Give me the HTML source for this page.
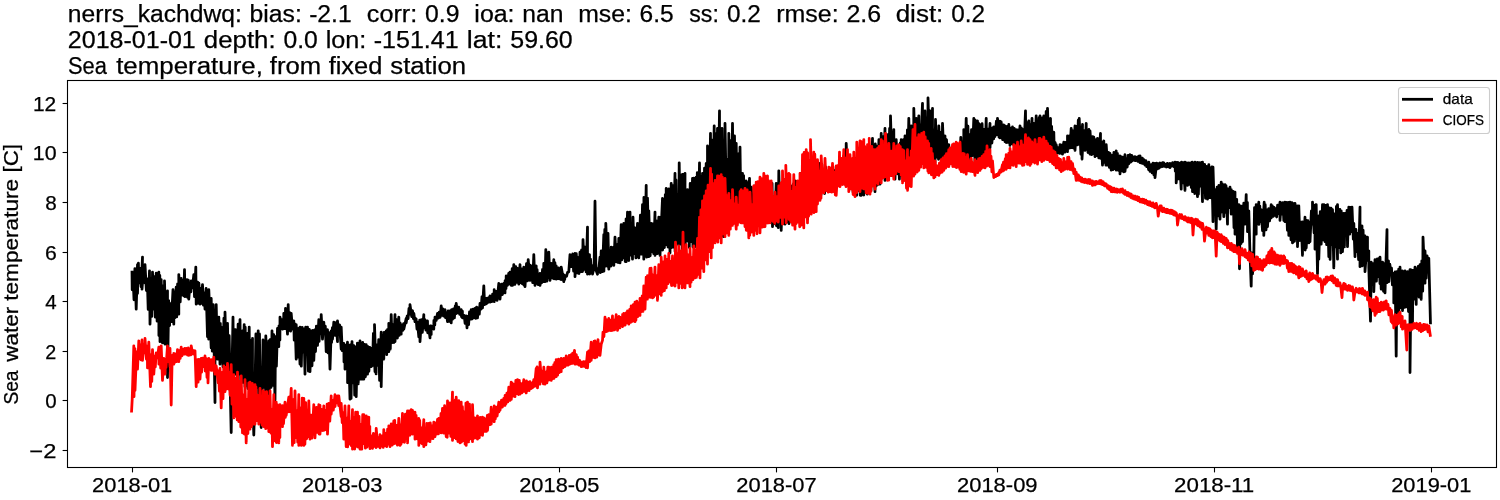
<!DOCTYPE html>
<html><head><meta charset="utf-8"><title>Sea temperature</title>
<style>
html,body{margin:0;padding:0;background:#fff;}
body{width:1500px;height:500px;overflow:hidden;font-family:"Liberation Sans",sans-serif;}
svg{display:block;font-family:"Liberation Sans",sans-serif;will-change:transform;}
text{fill:#000;stroke:#000;stroke-width:0.25px;}
.t{font-size:23px;}
.k{font-size:20px;}
.l{font-size:14.3px;stroke-width:0.15px;}
</style></head><body>
<svg width="1500" height="500" viewBox="0 0 1500 500">
<rect x="0" y="0" width="1500" height="500" fill="#fff"/>
<g class="t">
<text x="67.88" y="21.60" textLength="173.86" lengthAdjust="spacingAndGlyphs">nerrs_kachdwq:</text><text x="249.57" y="21.60" textLength="52.20" lengthAdjust="spacingAndGlyphs">bias:</text><text x="309.16" y="21.60" textLength="42.52" lengthAdjust="spacingAndGlyphs">-2.1</text><text x="366.80" y="21.60" textLength="50.34" lengthAdjust="spacingAndGlyphs">corr:</text><text x="424.99" y="21.60" textLength="34.45" lengthAdjust="spacingAndGlyphs">0.9</text><text x="474.39" y="21.60" textLength="40.12" lengthAdjust="spacingAndGlyphs">ioa:</text><text x="522.28" y="21.60" textLength="41.11" lengthAdjust="spacingAndGlyphs">nan</text><text x="578.18" y="21.60" textLength="53.67" lengthAdjust="spacingAndGlyphs">mse:</text><text x="639.55" y="21.60" textLength="34.12" lengthAdjust="spacingAndGlyphs">6.5</text><text x="689.27" y="21.60" textLength="29.60" lengthAdjust="spacingAndGlyphs">ss:</text><text x="726.93" y="21.60" textLength="33.82" lengthAdjust="spacingAndGlyphs">0.2</text><text x="776.23" y="21.60" textLength="62.45" lengthAdjust="spacingAndGlyphs">rmse:</text><text x="846.44" y="21.60" textLength="34.66" lengthAdjust="spacingAndGlyphs">2.6</text><text x="895.66" y="21.60" textLength="47.70" lengthAdjust="spacingAndGlyphs">dist:</text><text x="951.16" y="21.60" textLength="33.82" lengthAdjust="spacingAndGlyphs">0.2</text><text x="67.87" y="47.90" textLength="127.93" lengthAdjust="spacingAndGlyphs">2018-01-01</text><text x="203.84" y="47.90" textLength="71.78" lengthAdjust="spacingAndGlyphs">depth:</text><text x="283.42" y="47.90" textLength="34.33" lengthAdjust="spacingAndGlyphs">0.0</text><text x="325.72" y="47.90" textLength="40.65" lengthAdjust="spacingAndGlyphs">lon:</text><text x="373.70" y="47.90" textLength="84.96" lengthAdjust="spacingAndGlyphs">-151.41</text><text x="466.85" y="47.90" textLength="35.52" lengthAdjust="spacingAndGlyphs">lat:</text><text x="510.32" y="47.90" textLength="62.39" lengthAdjust="spacingAndGlyphs">59.60</text><text x="67.97" y="74.10" textLength="38.91" lengthAdjust="spacingAndGlyphs">Sea</text><text x="116.16" y="74.10" textLength="146.67" lengthAdjust="spacingAndGlyphs">temperature,</text><text x="269.89" y="74.10" textLength="51.36" lengthAdjust="spacingAndGlyphs">from</text><text x="328.67" y="74.10" textLength="53.70" lengthAdjust="spacingAndGlyphs">fixed</text><text x="390.31" y="74.10" textLength="75.76" lengthAdjust="spacingAndGlyphs">station</text>
</g>
<g fill="none" stroke-linejoin="round" stroke-linecap="butt" stroke-width="2.78">
<path stroke="#000" d="M132.0 270.8 L132.2 289.8 L133.1 277.4 L134.0 299.8 L134.9 268.6 L136.2 309.2 L137.5 264.6 L137.5 293.4 L138.4 263.2 L138.8 282.9 L140.2 268.3 L141.1 286.8 L142.5 257.1 L142.0 289.2 L143.8 266.1 L145.0 282.9 L145.0 264.6 L146.4 290.5 L147.3 279.0 L148.2 309.4 L149.5 270.8 L150.0 324.2 L151.2 278.3 L151.8 316.4 L152.5 272.1 L153.8 309.2 L154.4 276.6 L155.3 317.1 L156.2 273.2 L157.1 321.1 L158.8 272.1 L158.9 335.5 L159.8 275.5 L160.0 341.7 L161.2 279.6 L162.5 342.9 L163.3 285.7 L165.0 344.2 L164.5 280.8 L166.0 336.9 L167.5 290.8 L167.5 377.5 L168.7 300.7 L169.6 325.5 L170.0 303.3 L171.4 321.6 L173.0 289.6 L173.8 324.2 L174.0 291.7 L174.9 317.8 L176.2 287.1 L176.7 316.9 L177.6 283.8 L178.8 314.2 L178.8 274.6 L180.2 301.9 L181.2 278.3 L181.2 295.4 L182.9 280.5 L183.8 295.8 L184.5 269.6 L185.0 296.7 L187.0 279.6 L187.4 297.3 L188.3 280.2 L188.8 299.2 L190.0 283.9 L190.9 291.8 L191.2 280.8 L192.5 287.9 L193.8 274.6 L194.5 296.6 L195.8 267.1 L196.2 304.2 L197.5 282.1 L198.1 303.3 L198.9 283.2 L200.0 304.2 L200.7 288.5 L201.6 303.3 L202.5 284.6 L203.4 305.2 L204.3 293.1 L205.0 309.2 L206.1 288.5 L207.5 336.7 L207.8 300.9 L208.7 339.1 L208.8 289.6 L211.2 347.9 L211.2 298.3 L212.3 351.1 L213.2 304.6 L214.1 348.9 L215.0 402.5 L215.0 359.2 L216.2 304.6 L217.5 359.2 L218.8 317.1 L220.0 364.2 L220.3 323.3 L221.2 359.9 L221.2 327.1 L223.0 366.9 L223.9 318.2 L225.0 369.2 L225.0 312.1 L226.5 371.5 L227.5 323.3 L228.3 369.6 L229.2 335.7 L230.0 379.2 L231.2 432.5 L231.9 375.4 L233.0 317.1 L233.7 378.0 L234.5 329.7 L235.4 374.0 L235.5 329.6 L237.5 381.7 L238.1 324.2 L239.0 374.2 L240.0 319.6 L240.8 383.8 L242.5 330.8 L242.6 382.4 L244.2 324.6 L245.0 386.7 L245.2 327.2 L246.1 380.7 L247.5 333.3 L247.9 388.6 L249.2 327.1 L249.7 383.4 L250.6 340.2 L251.5 390.5 L252.5 338.3 L252.5 391.7 L253.8 435.0 L255.0 391.0 L255.9 333.9 L256.8 387.7 L258.2 330.8 L258.6 393.5 L259.5 333.9 L260.0 394.2 L261.2 427.5 L262.1 394.6 L263.0 339.9 L263.9 387.4 L264.8 342.9 L265.7 396.1 L265.8 335.8 L267.5 396.7 L268.8 340.8 L269.2 392.0 L270.1 339.7 L271.0 387.4 L272.0 330.8 L272.8 385.4 L273.7 334.7 L275.0 400.0 L275.5 336.7 L276.4 366.1 L277.5 328.3 L278.8 346.7 L279.0 325.8 L279.9 340.1 L280.0 317.1 L282.5 329.2 L282.6 319.5 L283.5 328.7 L283.8 313.3 L285.3 328.7 L285.5 308.3 L287.5 334.2 L288.2 304.6 L288.8 330.4 L289.7 312.7 L290.6 331.1 L291.2 313.3 L292.5 329.2 L293.8 320.8 L294.2 340.2 L295.1 323.8 L296.2 359.2 L296.2 324.6 L297.7 357.1 L298.6 328.3 L300.0 364.2 L300.0 327.1 L301.3 366.2 L302.2 327.3 L303.1 352.0 L304.0 329.2 L305.0 374.2 L305.7 327.1 L306.6 353.9 L307.5 327.1 L308.4 371.2 L309.3 329.4 L310.0 371.7 L311.2 330.8 L312.0 365.8 L312.9 330.4 L313.8 360.4 L315.0 329.6 L315.5 351.5 L316.4 326.1 L317.5 345.4 L318.8 319.6 L319.1 341.4 L320.0 319.7 L320.9 333.5 L321.2 314.6 L322.5 339.2 L323.8 322.1 L324.4 333.5 L325.3 326.1 L326.2 351.7 L327.5 329.6 L328.0 352.9 L328.9 332.6 L330.0 369.2 L331.2 330.8 L331.6 342.3 L332.4 327.6 L332.5 339.2 L333.8 322.1 L335.1 335.3 L336.0 322.7 L337.5 341.7 L337.5 320.8 L338.7 333.3 L339.6 324.9 L341.2 349.2 L341.2 327.1 L342.2 350.6 L343.8 343.3 L344.0 362.1 L344.9 344.8 L345.0 369.2 L347.5 342.1 L347.6 382.7 L348.5 345.5 L350.0 399.2 L350.2 345.0 L351.1 398.4 L352.0 341.6 L352.9 382.9 L353.8 345.6 L354.7 395.2 L355.6 347.0 L356.2 396.7 L357.4 343.1 L358.2 383.9 L360.0 340.8 L360.0 379.2 L360.9 343.7 L361.8 379.2 L362.7 342.5 L363.8 379.2 L364.5 344.4 L365.4 376.8 L366.2 344.6 L367.5 374.2 L368.0 346.7 L368.9 371.3 L369.8 347.4 L371.2 366.7 L371.2 348.3 L372.5 365.5 L373.4 333.4 L375.0 371.7 L374.5 324.6 L376.1 373.9 L376.2 344.6 L377.8 365.3 L378.7 339.6 L379.6 380.4 L381.2 332.1 L381.2 386.7 L382.3 335.2 L383.8 359.2 L384.1 332.5 L385.0 348.5 L386.2 330.8 L386.7 354.7 L387.6 329.4 L388.8 351.7 L388.8 323.3 L390.3 349.2 L391.2 314.6 L392.1 342.7 L393.0 325.0 L393.9 342.5 L395.0 314.6 L395.0 341.7 L396.5 319.7 L397.4 338.0 L398.8 317.1 L399.2 335.3 L400.1 322.9 L401.2 334.2 L401.2 324.6 L402.8 330.4 L403.6 323.6 L403.8 329.2 L406.2 318.3 L406.2 322.9 L407.2 315.9 L408.1 318.6 L409.0 308.4 L410.0 314.2 L410.0 304.6 L411.7 316.6 L412.5 310.6 L413.4 318.6 L413.8 313.3 L415.0 321.7 L416.1 318.8 L417.0 329.2 L417.5 322.1 L418.8 336.8 L419.7 320.2 L420.0 341.7 L421.4 319.7 L422.3 332.3 L423.8 314.6 L423.8 327.9 L425.0 319.7 L425.9 330.2 L427.5 320.9 L427.7 332.8 L428.6 326.3 L430.0 337.9 L430.3 326.0 L431.2 334.4 L431.2 325.9 L433.8 329.1 L433.9 320.4 L434.8 324.9 L435.0 317.1 L436.2 320.4 L437.5 313.4 L438.4 318.1 L439.2 312.2 L440.1 317.3 L441.2 305.9 L442.5 315.4 L442.8 308.9 L443.7 316.0 L445.0 309.6 L445.5 317.7 L446.4 313.1 L447.5 321.6 L448.1 311.0 L449.0 321.4 L450.0 310.9 L451.2 322.9 L451.7 309.6 L452.6 319.2 L453.5 308.8 L454.4 317.9 L455.3 305.9 L456.2 313.5 L456.2 303.4 L457.5 312.9 L458.8 307.2 L459.7 314.4 L461.2 309.6 L461.5 316.8 L462.4 311.1 L462.5 317.9 L464.2 315.4 L465.1 323.4 L466.2 315.9 L467.0 327.9 L467.7 316.4 L468.6 324.6 L469.5 311.8 L471.2 319.1 L471.2 309.6 L472.2 318.8 L473.1 309.2 L473.9 317.5 L475.0 308.4 L475.7 318.3 L476.6 307.1 L477.5 317.9 L478.4 307.9 L479.3 314.1 L480.0 303.4 L481.1 309.2 L482.0 296.6 L482.5 307.9 L483.8 285.9 L484.6 304.7 L486.2 298.3 L486.4 303.8 L487.3 298.1 L487.5 302.9 L489.1 297.5 L490.0 302.2 L490.0 295.8 L491.8 301.7 L492.6 294.2 L494.2 301.7 L494.2 289.6 L495.3 299.5 L496.2 291.3 L497.1 300.3 L498.8 283.3 L498.9 297.4 L499.8 286.4 L500.0 299.2 L501.5 284.2 L502.4 294.7 L503.8 283.3 L505.0 292.9 L505.1 280.7 L506.0 288.5 L506.2 275.8 L507.5 285.4 L508.7 273.5 L509.6 284.0 L510.0 272.1 L511.3 285.4 L512.2 268.6 L512.5 285.4 L513.8 264.6 L514.9 284.4 L515.8 266.6 L516.7 282.4 L517.5 268.3 L518.8 284.2 L520.0 264.6 L520.2 282.5 L521.1 268.7 L522.0 283.5 L523.8 267.1 L523.8 285.0 L524.7 271.7 L525.0 286.7 L526.5 263.7 L527.4 280.9 L528.2 259.6 L530.0 280.4 L530.0 265.2 L530.9 279.9 L531.2 265.8 L532.7 282.6 L533.8 254.6 L535.0 285.4 L536.2 265.8 L536.2 283.5 L537.1 269.6 L538.0 284.5 L538.9 274.7 L540.0 285.4 L540.0 273.3 L541.6 283.0 L542.5 269.5 L543.4 281.7 L543.8 263.3 L545.0 281.7 L545.8 249.6 L546.9 281.2 L547.8 252.7 L548.7 277.5 L548.8 252.1 L550.0 280.4 L551.2 263.3 L552.3 278.0 L553.8 259.6 L554.0 278.8 L554.9 262.7 L556.2 279.2 L556.2 265.8 L557.6 278.6 L558.5 267.9 L559.4 278.8 L560.3 269.9 L561.2 279.6 L561.2 267.1 L563.8 281.7 L563.8 274.8 L564.7 279.7 L565.0 275.6 L566.5 276.4 L567.5 272.5 L568.8 271.7 L570.0 254.6 L570.1 266.8 L571.0 258.1 L571.2 266.7 L572.7 253.9 L573.6 271.1 L575.0 253.3 L575.0 276.7 L576.3 253.7 L577.2 273.0 L578.1 257.6 L579.0 273.5 L580.0 252.1 L581.2 271.7 L581.6 250.0 L582.5 271.6 L583.0 239.6 L584.3 269.4 L585.0 247.1 L586.1 271.9 L587.5 227.1 L587.5 274.2 L589.5 254.6 L589.7 274.0 L590.5 259.1 L591.4 272.4 L592.5 265.8 L592.5 274.2 L594.1 267.6 L595.0 201.2 L595.9 269.7 L597.5 274.2 L597.0 268.3 L598.5 271.9 L600.0 257.1 L600.3 272.7 L601.2 250.8 L602.5 271.7 L603.8 234.6 L603.9 271.1 L604.8 229.5 L605.7 266.0 L605.8 223.3 L607.5 266.3 L608.0 233.3 L608.8 269.2 L610.1 250.7 L611.0 266.1 L611.2 247.1 L612.8 263.2 L613.7 247.1 L613.8 265.4 L615.0 237.1 L616.4 261.9 L617.2 244.6 L618.1 262.5 L618.8 238.3 L620.0 262.9 L621.2 224.6 L621.7 259.9 L622.6 227.0 L623.5 257.8 L623.8 223.3 L625.2 261.5 L626.1 218.9 L626.2 261.7 L627.5 212.1 L628.8 260.5 L630.0 212.1 L630.6 255.2 L631.5 224.4 L632.5 259.2 L633.0 217.1 L634.2 253.7 L635.0 228.0 L635.9 257.9 L637.5 223.3 L637.7 256.4 L638.6 228.1 L638.8 257.9 L640.4 215.1 L641.3 254.1 L642.5 204.6 L643.8 259.2 L643.9 197.5 L644.8 254.0 L646.2 185.3 L646.6 257.2 L647.5 198.1 L648.8 256.7 L648.8 210.8 L650.2 255.8 L651.2 223.3 L652.0 251.6 L652.8 224.0 L653.7 253.7 L655.0 212.1 L655.0 255.4 L656.4 221.0 L657.3 253.7 L658.8 217.1 L659.1 251.1 L660.0 217.5 L660.0 255.4 L662.5 198.3 L662.6 250.0 L663.5 205.0 L664.4 247.5 L665.3 194.6 L666.2 244.7 L666.2 188.3 L668.0 247.0 L668.9 188.8 L670.0 252.9 L671.2 183.3 L671.5 247.7 L672.4 185.5 L673.3 247.1 L675.0 173.3 L675.1 251.4 L676.0 180.0 L676.9 243.3 L677.8 194.3 L678.7 245.3 L679.2 162.8 L680.4 244.1 L682.0 174.6 L682.2 249.7 L683.1 174.3 L684.0 239.9 L685.0 173.3 L685.0 249.2 L687.5 189.6 L687.5 241.1 L688.4 204.6 L689.3 247.4 L690.2 183.5 L691.1 241.6 L692.5 178.3 L692.9 247.1 L693.8 178.2 L695.0 246.7 L696.2 177.1 L696.5 239.5 L697.3 172.7 L698.2 241.5 L699.5 162.8 L700.0 238.3 L700.9 176.2 L701.8 235.6 L702.5 173.3 L703.6 237.1 L704.5 168.2 L705.3 233.1 L706.2 163.3 L707.5 241.7 L707.5 145.8 L708.9 232.2 L710.5 133.3 L710.7 239.8 L711.6 139.9 L712.5 229.0 L714.2 125.8 L714.2 238.6 L715.1 133.4 L716.0 229.3 L717.5 128.3 L717.8 226.8 L719.5 110.8 L719.6 230.7 L720.5 153.5 L721.2 236.7 L722.0 128.3 L723.8 236.7 L724.0 152.4 L724.9 223.3 L725.0 123.3 L726.7 216.4 L727.6 159.1 L728.5 227.7 L728.8 133.3 L730.3 220.1 L731.2 140.4 L731.2 222.9 L732.5 123.3 L733.8 214.4 L734.5 135.8 L735.6 220.1 L736.2 143.3 L737.4 210.5 L738.3 154.0 L738.8 221.7 L740.0 147.1 L741.0 218.1 L742.5 173.3 L742.7 221.2 L743.6 175.6 L744.5 218.9 L746.2 180.8 L746.3 218.2 L747.2 182.4 L748.1 214.9 L749.5 178.3 L750.0 220.4 L751.2 187.1 L751.6 215.5 L752.5 195.5 L753.4 220.7 L754.3 185.8 L755.2 215.9 L756.1 194.1 L757.0 221.0 L757.9 185.9 L758.8 217.7 L760.0 183.3 L760.5 222.1 L761.4 183.9 L762.3 218.7 L763.2 189.3 L764.1 219.0 L765.0 184.2 L766.2 222.9 L766.8 194.5 L767.7 221.1 L768.5 185.9 L769.4 219.4 L770.0 183.3 L771.2 221.0 L772.1 183.4 L772.5 226.7 L773.9 197.1 L774.8 223.8 L776.2 183.3 L776.5 225.8 L777.4 193.0 L778.3 227.7 L778.8 170.8 L780.1 221.8 L781.2 183.3 L781.2 230.4 L782.8 184.1 L783.7 223.7 L784.6 191.2 L785.0 224.2 L786.3 186.3 L787.2 221.8 L788.1 191.8 L789.0 223.7 L789.9 184.9 L790.8 221.1 L791.7 186.2 L792.6 222.5 L793.5 183.8 L795.0 222.9 L795.0 180.8 L796.1 219.3 L797.0 181.4 L797.9 215.7 L798.8 183.8 L799.7 220.5 L800.6 173.3 L801.5 215.7 L802.4 179.8 L803.2 219.8 L804.1 171.9 L805.0 211.8 L805.9 179.0 L807.5 219.2 L807.5 163.3 L808.6 212.0 L809.5 181.5 L810.4 210.9 L811.3 167.4 L812.2 204.9 L813.0 174.1 L813.9 203.3 L814.8 166.8 L815.7 201.2 L816.6 169.0 L817.5 200.6 L818.4 164.5 L820.0 196.7 L820.0 163.3 L821.0 194.8 L821.9 164.5 L822.8 190.8 L823.7 173.2 L824.6 193.5 L825.5 166.9 L826.4 190.5 L827.3 172.2 L828.2 190.0 L829.1 169.4 L830.0 190.4 L830.8 172.7 L831.7 187.8 L832.5 170.8 L833.5 187.4 L834.4 170.7 L835.3 185.8 L836.2 166.5 L837.1 184.1 L838.0 171.4 L838.8 184.0 L839.7 163.2 L840.6 182.1 L841.5 167.7 L842.4 183.1 L843.8 155.8 L845.0 184.2 L845.1 157.8 L846.0 180.5 L846.2 143.3 L847.8 182.9 L848.8 158.3 L849.5 188.8 L850.4 160.4 L851.3 187.1 L852.2 162.8 L853.1 192.3 L854.0 158.3 L855.0 195.4 L855.8 158.4 L856.7 195.3 L857.5 153.0 L858.4 190.4 L860.0 148.3 L860.2 195.3 L861.1 149.3 L861.2 195.4 L862.9 153.8 L863.8 195.0 L864.7 150.0 L865.5 191.2 L866.4 154.4 L867.3 194.1 L868.2 150.5 L870.0 190.4 L869.2 148.3 L870.9 190.6 L872.5 138.3 L872.7 184.9 L873.6 147.9 L875.0 191.7 L875.3 144.0 L876.2 186.0 L876.2 145.8 L878.0 184.4 L878.9 139.6 L880.0 184.2 L881.2 133.3 L881.6 178.5 L882.5 136.5 L883.3 176.9 L885.0 128.3 L885.0 180.4 L886.0 136.1 L886.9 173.8 L887.5 134.6 L888.7 175.8 L889.6 128.5 L890.5 174.9 L890.5 115.8 L892.2 175.8 L893.8 129.6 L894.0 174.3 L894.9 144.3 L895.0 179.2 L896.2 139.6 L897.6 173.8 L898.5 149.4 L899.4 179.2 L900.3 143.0 L901.2 175.3 L901.2 139.6 L902.9 178.8 L903.8 139.4 L904.7 177.1 L905.0 135.8 L906.5 178.6 L907.4 129.8 L907.5 179.2 L908.8 118.3 L910.0 174.7 L911.2 125.8 L911.8 169.1 L912.7 129.2 L913.6 170.8 L913.8 108.3 L915.4 162.7 L916.2 118.3 L917.2 167.0 L918.8 115.8 L919.0 163.5 L919.8 124.7 L920.0 166.7 L922.5 103.3 L922.5 156.5 L923.4 114.7 L924.3 163.1 L925.0 110.8 L926.1 157.9 L927.0 117.7 L927.9 164.0 L928.0 97.8 L929.6 156.3 L930.0 110.8 L931.4 161.5 L932.5 108.3 L932.5 164.2 L934.1 129.6 L935.0 162.4 L935.5 119.5 L936.8 157.0 L937.6 131.2 L938.5 159.3 L938.8 125.8 L940.3 158.0 L941.2 132.1 L942.1 160.3 L942.5 123.3 L943.9 156.9 L945.0 135.8 L945.0 159.2 L946.5 139.6 L947.4 156.7 L948.8 144.6 L949.2 159.1 L950.1 148.1 L951.0 158.3 L951.2 148.3 L952.8 158.4 L953.7 148.0 L954.5 158.0 L955.4 150.3 L956.3 158.8 L957.5 145.8 L958.1 157.7 L959.0 147.8 L959.9 158.0 L960.8 137.3 L961.7 157.7 L962.6 141.7 L963.8 159.2 L963.8 129.6 L965.2 156.8 L966.2 118.3 L967.0 155.9 L967.9 126.1 L968.8 156.6 L970.0 134.6 L970.6 161.0 L971.5 129.7 L972.4 155.7 L973.8 118.3 L975.0 162.2 L975.0 119.8 L975.9 155.4 L977.5 120.8 L977.7 161.0 L978.6 123.3 L979.5 156.8 L981.2 124.5 L981.2 159.5 L982.1 123.7 L983.0 155.9 L983.9 129.5 L985.0 157.9 L986.2 118.3 L986.6 149.9 L987.5 128.9 L988.4 151.2 L990.0 123.3 L990.0 147.9 L991.0 128.1 L991.9 143.0 L992.8 127.6 L993.7 138.8 L993.8 127.0 L995.0 136.7 L996.4 121.2 L997.3 134.6 L997.5 118.3 L999.0 137.1 L999.9 121.1 L1000.0 137.9 L1001.2 122.0 L1002.6 139.7 L1003.5 124.8 L1005.0 141.7 L1005.0 125.8 L1006.2 142.5 L1007.1 126.4 L1008.0 142.3 L1008.8 124.5 L1010.0 145.4 L1010.6 128.1 L1011.5 143.7 L1012.5 127.0 L1013.3 144.5 L1014.2 128.3 L1015.1 145.4 L1016.2 129.6 L1016.9 146.7 L1017.7 129.8 L1018.6 147.1 L1020.0 125.8 L1020.0 149.2 L1021.3 127.9 L1022.2 147.9 L1023.0 129.6 L1024.0 148.2 L1025.5 110.8 L1025.8 143.4 L1026.6 122.5 L1027.5 147.8 L1028.8 120.8 L1029.3 146.5 L1030.2 124.8 L1031.1 147.4 L1032.0 118.3 L1032.5 149.2 L1033.8 123.5 L1034.7 148.3 L1036.2 115.8 L1036.4 145.4 L1037.3 120.8 L1038.2 146.1 L1039.1 117.7 L1040.0 145.7 L1040.0 115.8 L1041.8 148.8 L1042.7 117.7 L1043.5 145.2 L1043.8 115.8 L1045.0 149.2 L1046.2 111.3 L1047.1 145.7 L1047.5 108.3 L1048.9 150.3 L1050.5 118.3 L1050.7 148.5 L1051.6 126.4 L1052.5 150.6 L1053.8 132.1 L1054.2 150.1 L1055.1 142.5 L1056.0 152.4 L1056.2 144.6 L1057.5 152.9 L1058.7 147.3 L1059.6 153.3 L1060.0 144.6 L1061.4 153.4 L1062.2 145.0 L1062.5 154.2 L1063.8 142.1 L1064.9 152.1 L1065.8 142.4 L1067.5 151.7 L1067.5 135.8 L1068.5 148.4 L1069.4 136.0 L1070.0 147.9 L1071.2 128.3 L1072.0 147.6 L1072.9 130.9 L1073.8 148.2 L1075.0 125.8 L1075.0 150.4 L1076.5 126.3 L1077.4 144.9 L1078.3 120.1 L1078.8 144.2 L1079.2 118.3 L1080.9 154.3 L1082.5 124.5 L1082.0 159.2 L1083.6 130.3 L1085.0 150.4 L1086.2 123.3 L1086.3 149.3 L1087.2 132.4 L1088.0 152.5 L1088.9 129.5 L1090.0 154.2 L1090.0 130.8 L1091.6 154.7 L1092.5 136.6 L1093.4 153.6 L1093.8 137.1 L1095.0 156.7 L1096.1 139.6 L1097.0 155.6 L1097.5 138.3 L1098.8 157.9 L1100.5 133.3 L1100.5 158.3 L1101.4 141.9 L1102.5 165.2 L1103.8 140.8 L1104.1 162.4 L1105.0 148.0 L1105.9 165.2 L1106.2 144.6 L1107.5 165.2 L1108.5 152.5 L1109.4 167.4 L1110.0 153.3 L1111.2 170.2 L1112.1 155.5 L1113.0 169.6 L1113.9 152.3 L1114.8 168.5 L1116.2 150.8 L1116.2 170.2 L1117.4 153.3 L1118.3 170.3 L1120.0 155.8 L1120.0 173.9 L1121.0 156.7 L1121.9 170.8 L1122.8 157.1 L1123.7 171.9 L1125.0 154.6 L1125.0 171.4 L1126.3 159.2 L1127.2 167.0 L1128.1 155.5 L1128.8 163.9 L1130.0 154.6 L1130.8 162.1 L1131.7 155.5 L1132.5 160.8 L1133.4 157.0 L1135.0 160.5 L1135.0 156.7 L1136.1 160.5 L1137.0 157.2 L1137.9 161.4 L1138.8 156.2 L1140.0 162.7 L1140.0 155.8 L1141.5 163.2 L1142.3 158.1 L1143.2 163.5 L1143.8 159.6 L1145.0 165.2 L1145.9 160.7 L1146.8 166.7 L1147.7 163.8 L1148.6 169.5 L1148.8 162.1 L1150.0 171.4 L1151.2 164.7 L1152.1 172.9 L1153.0 163.2 L1153.9 174.8 L1155.0 163.3 L1155.0 177.7 L1156.6 163.2 L1157.5 168.9 L1158.4 163.6 L1159.2 168.1 L1160.1 163.0 L1161.0 166.9 L1162.5 162.6 L1162.5 166.6 L1163.7 162.8 L1164.6 166.3 L1165.5 164.3 L1166.4 167.0 L1167.3 163.4 L1168.1 166.8 L1169.0 163.9 L1170.0 167.7 L1170.0 163.3 L1171.7 166.0 L1172.6 162.7 L1173.8 166.7 L1175.0 162.1 L1175.3 171.1 L1176.2 162.5 L1176.2 182.9 L1177.9 162.4 L1178.8 178.8 L1179.7 163.1 L1181.2 189.2 L1181.5 162.1 L1182.4 182.9 L1183.3 162.7 L1185.0 190.4 L1185.0 162.1 L1186.0 182.1 L1186.8 162.8 L1187.5 185.4 L1188.6 162.9 L1189.5 184.4 L1190.4 162.9 L1191.3 187.5 L1192.2 162.2 L1192.5 191.7 L1194.0 162.8 L1194.8 193.6 L1195.0 162.1 L1197.5 196.7 L1197.5 162.5 L1198.4 194.2 L1199.3 162.7 L1200.2 186.2 L1201.1 162.7 L1202.5 201.7 L1202.5 162.1 L1203.8 192.8 L1204.6 164.4 L1205.5 198.3 L1206.4 166.3 L1207.5 199.2 L1208.8 164.6 L1209.1 197.7 L1210.0 167.6 L1211.2 197.9 L1211.8 167.0 L1213.0 221.7 L1213.0 167.1 L1214.4 213.3 L1215.0 189.6 L1216.2 229.2 L1217.1 187.1 L1218.0 215.9 L1218.9 185.5 L1220.0 219.2 L1221.2 182.1 L1221.5 212.0 L1222.4 184.0 L1223.8 216.7 L1225.0 184.6 L1225.1 212.4 L1226.0 185.6 L1227.5 224.2 L1227.8 189.0 L1228.7 207.7 L1230.0 187.1 L1231.2 214.2 L1231.3 189.7 L1232.2 209.6 L1233.1 191.4 L1234.0 227.6 L1235.0 192.1 L1235.0 234.2 L1236.7 199.3 L1237.5 249.2 L1238.8 204.6 L1239.5 268.8 L1240.2 205.9 L1241.1 243.5 L1242.5 205.8 L1242.5 241.7 L1243.8 203.1 L1245.0 224.2 L1246.2 194.6 L1246.5 220.0 L1247.4 202.5 L1247.5 231.7 L1248.8 210.8 L1250.0 254.2 L1251.2 286.2 L1251.8 252.8 L1252.5 273.8 L1253.8 256.7 L1254.5 207.7 L1256.2 234.2 L1256.2 204.6 L1257.1 222.9 L1258.8 202.1 L1258.9 224.4 L1259.8 206.1 L1260.0 221.7 L1261.2 209.6 L1262.5 230.7 L1264.2 202.1 L1263.8 235.4 L1265.2 204.7 L1266.0 229.9 L1267.5 209.6 L1267.5 226.7 L1268.7 208.6 L1269.6 220.9 L1271.2 204.6 L1271.2 217.9 L1272.3 205.9 L1273.2 216.4 L1274.1 207.5 L1275.0 215.4 L1275.0 208.3 L1276.7 217.0 L1277.6 205.1 L1278.5 213.7 L1280.0 202.1 L1280.0 220.4 L1281.2 202.8 L1282.1 214.2 L1283.0 202.7 L1283.8 220.5 L1285.0 202.1 L1285.0 221.7 L1286.5 202.5 L1287.4 230.3 L1288.3 202.5 L1288.8 235.4 L1290.0 202.1 L1291.0 239.8 L1291.9 202.6 L1292.5 242.9 L1293.6 203.7 L1294.5 241.3 L1295.0 203.3 L1296.3 238.5 L1297.2 205.8 L1297.5 246.7 L1298.8 205.8 L1299.9 240.5 L1301.2 222.1 L1302.5 255.4 L1302.5 222.0 L1303.4 248.7 L1305.0 217.1 L1305.2 250.0 L1306.1 220.2 L1306.2 247.9 L1307.9 220.7 L1308.8 242.8 L1310.0 222.1 L1310.0 241.7 L1311.4 210.8 L1312.5 224.2 L1312.5 202.1 L1314.1 232.9 L1315.0 205.1 L1315.0 249.2 L1316.2 204.6 L1317.5 273.8 L1318.8 215.8 L1318.8 259.2 L1320.3 211.6 L1321.2 244.2 L1322.5 204.6 L1323.0 239.9 L1323.9 204.7 L1325.0 241.7 L1325.7 205.4 L1326.6 244.6 L1327.5 204.6 L1328.8 256.7 L1329.2 208.0 L1330.1 259.4 L1331.0 208.1 L1331.9 244.5 L1332.5 209.6 L1333.8 267.9 L1334.6 213.9 L1335.5 246.9 L1336.4 206.5 L1337.5 259.2 L1337.5 204.6 L1339.0 247.5 L1339.9 209.4 L1340.8 252.9 L1341.2 210.8 L1342.5 251.7 L1343.5 213.5 L1344.4 246.9 L1345.0 213.3 L1346.1 234.2 L1347.0 210.5 L1347.5 246.7 L1348.8 207.1 L1349.7 234.1 L1350.6 207.5 L1351.2 231.7 L1352.0 207.1 L1353.3 239.2 L1353.8 223.3 L1355.0 256.7 L1355.9 229.4 L1356.8 251.7 L1357.5 233.3 L1358.6 259.6 L1360.0 207.1 L1360.0 266.7 L1362.0 225.8 L1362.2 265.9 L1363.1 230.2 L1364.0 263.1 L1365.0 235.8 L1365.0 271.7 L1367.5 237.1 L1367.5 260.3 L1368.8 250.8 L1368.8 267.9 L1370.5 321.2 L1371.1 272.8 L1371.2 262.1 L1372.8 284.7 L1373.7 263.5 L1373.8 291.7 L1375.0 259.6 L1376.4 281.1 L1377.3 258.8 L1377.5 276.7 L1379.1 258.5 L1380.0 283.7 L1380.0 257.1 L1381.2 289.2 L1382.6 262.2 L1383.5 291.3 L1383.8 263.3 L1385.0 292.9 L1387.0 229.6 L1387.1 282.7 L1388.5 260.8 L1388.8 281.7 L1389.8 264.2 L1391.2 274.2 L1391.5 268.1 L1392.4 284.9 L1393.8 273.3 L1393.8 302.9 L1395.1 272.0 L1396.2 356.2 L1396.9 271.7 L1397.8 307.7 L1398.7 269.2 L1398.8 313.2 L1400.0 267.1 L1401.3 307.8 L1402.2 270.8 L1402.5 310.7 L1404.0 271.5 L1404.9 307.3 L1405.0 270.8 L1406.2 306.9 L1407.6 271.7 L1408.5 311.5 L1410.0 269.6 L1410.0 372.5 L1411.1 270.0 L1412.5 323.2 L1412.9 270.3 L1413.8 299.2 L1415.0 267.1 L1416.2 304.4 L1416.5 269.1 L1417.3 290.7 L1418.2 266.3 L1419.1 297.2 L1420.0 264.6 L1421.2 299.4 L1421.8 260.8 L1422.7 291.2 L1423.0 237.1 L1425.0 283.2 L1425.0 250.8 L1426.2 278.1 L1427.1 255.8 L1428.8 269.2 L1428.8 258.3 L1430.5 324.2"/>
<path stroke="#f00" d="M131.5 412.5 L132.2 399.5 L133.8 345.8 L134.0 396.6 L134.9 348.6 L135.0 390.4 L136.6 352.0 L137.5 369.1 L138.8 340.8 L138.8 359.2 L140.2 345.0 L141.1 359.9 L142.0 340.0 L142.5 360.4 L143.8 343.8 L145.0 352.9 L145.0 338.3 L146.4 359.2 L147.3 346.2 L147.5 367.9 L148.8 342.1 L150.5 386.7 L150.9 354.8 L151.8 381.4 L152.5 349.6 L153.8 374.2 L155.0 355.8 L155.3 366.9 L156.2 353.0 L157.5 357.9 L158.8 347.1 L158.9 364.2 L159.8 347.2 L160.7 368.1 L161.2 345.8 L162.5 380.4 L163.8 358.3 L165.0 374.2 L165.1 359.4 L166.0 367.3 L167.5 345.8 L167.5 361.7 L168.7 350.3 L170.0 366.7 L170.0 348.3 L171.2 405.0 L172.2 355.3 L173.8 364.2 L173.8 353.3 L174.9 362.4 L175.8 353.9 L176.7 361.5 L177.5 349.6 L178.8 361.7 L179.4 350.7 L180.2 358.4 L181.2 347.1 L182.0 355.8 L182.9 349.4 L183.8 354.2 L184.7 348.3 L185.6 354.0 L186.2 348.3 L187.4 355.0 L188.3 347.8 L188.8 355.4 L190.0 349.3 L190.9 354.8 L191.2 345.8 L192.7 353.9 L193.6 350.7 L193.8 354.2 L195.0 350.8 L196.2 386.7 L197.5 359.6 L198.1 382.1 L198.9 359.3 L200.0 379.2 L201.2 358.3 L201.6 372.2 L202.5 358.1 L203.8 366.7 L205.0 355.8 L205.2 371.1 L206.1 358.4 L207.0 377.4 L207.8 364.8 L208.0 382.9 L208.8 358.3 L211.2 370.4 L211.4 359.7 L212.3 370.2 L213.8 357.1 L214.1 371.7 L215.0 365.3 L215.0 374.2 L216.2 365.8 L218.2 382.9 L218.5 371.0 L219.4 391.1 L220.0 368.3 L221.2 407.9 L222.1 372.4 L223.0 398.6 L223.8 365.8 L225.0 391.7 L225.6 367.5 L226.5 389.0 L227.5 363.3 L228.8 389.2 L229.2 372.2 L230.1 395.3 L231.2 364.6 L232.0 404.2 L232.8 378.5 L233.8 417.9 L233.8 374.6 L235.4 416.3 L236.3 378.2 L237.2 419.9 L237.5 372.1 L238.8 421.7 L239.9 381.2 L240.8 427.0 L241.2 375.8 L242.5 432.9 L243.4 394.8 L244.3 434.0 L245.0 379.6 L246.2 442.9 L247.0 399.4 L247.9 433.6 L248.8 382.8 L250.0 429.2 L250.0 382.1 L251.5 426.7 L252.3 383.3 L253.8 424.2 L255.0 384.6 L255.0 424.1 L255.9 386.8 L256.8 420.7 L257.7 395.3 L258.8 424.2 L260.0 388.3 L260.4 422.2 L261.2 398.4 L262.1 425.1 L263.0 390.6 L263.8 426.7 L265.0 392.1 L265.7 428.6 L266.6 391.7 L267.5 427.9 L268.4 396.4 L268.8 431.7 L270.0 390.8 L271.0 433.2 L271.9 410.0 L272.5 446.7 L273.8 394.6 L274.6 440.8 L276.2 402.1 L276.4 442.6 L277.3 404.6 L278.8 442.9 L279.0 414.4 L279.9 437.6 L280.0 404.6 L282.5 426.7 L282.6 405.7 L283.5 423.7 L285.0 402.1 L285.3 417.4 L286.2 404.8 L286.2 415.4 L288.8 397.1 L288.8 411.8 L289.7 396.6 L290.0 411.7 L291.2 388.3 L292.5 445.4 L293.3 399.7 L294.2 442.7 L295.0 390.8 L296.0 437.5 L296.8 410.6 L297.7 442.1 L298.8 394.6 L298.8 445.4 L300.4 408.1 L301.3 445.4 L302.2 398.1 L303.8 445.4 L303.8 398.3 L304.9 444.3 L305.7 402.7 L306.6 438.8 L307.5 409.8 L308.4 436.7 L308.8 400.8 L310.0 439.2 L311.1 415.1 L312.0 438.1 L313.8 404.6 L313.8 434.1 L314.6 408.9 L315.0 437.9 L316.4 407.3 L317.3 432.4 L318.8 404.6 L319.1 434.1 L320.0 405.5 L320.0 434.2 L321.8 409.5 L322.6 430.5 L323.8 405.8 L323.8 430.4 L325.3 410.3 L326.2 429.9 L327.1 404.1 L327.5 434.2 L328.8 403.3 L329.8 421.2 L331.2 395.8 L331.2 414.2 L332.4 400.2 L333.3 410.2 L335.0 394.6 L335.1 406.5 L336.0 396.2 L337.5 402.9 L337.8 395.9 L338.7 405.5 L338.8 395.8 L341.2 416.7 L341.2 403.3 L342.2 422.7 L343.1 412.7 L343.8 439.2 L345.0 405.8 L346.2 446.7 L346.7 418.1 L347.6 446.9 L348.8 405.8 L349.4 443.8 L350.2 421.2 L351.1 445.5 L352.5 409.6 L352.5 449.2 L353.8 417.1 L354.7 449.0 L355.6 412.2 L356.5 446.3 L357.5 412.1 L358.2 447.2 L359.1 416.4 L360.0 449.2 L360.9 424.3 L361.8 449.1 L362.7 414.7 L363.6 443.6 L363.8 414.6 L365.4 448.2 L366.3 415.8 L367.1 447.0 L368.8 417.1 L368.9 445.2 L369.8 426.3 L370.0 448.7 L371.2 435.8 L372.5 448.4 L373.4 433.5 L374.3 446.3 L375.2 433.8 L376.1 447.6 L376.2 428.3 L377.8 446.3 L378.7 437.7 L380.0 447.9 L380.0 434.6 L381.4 446.2 L382.3 436.0 L383.2 447.4 L383.8 429.6 L385.0 445.5 L385.8 433.3 L386.7 446.7 L387.6 429.1 L388.5 444.1 L388.8 425.8 L390.0 446.7 L391.2 423.9 L392.1 445.2 L393.8 420.8 L393.9 443.8 L394.7 420.4 L395.6 443.3 L396.5 425.3 L397.4 445.2 L398.8 418.3 L400.0 445.4 L400.1 424.6 L401.0 444.3 L402.5 413.3 L402.8 441.9 L403.6 421.8 L404.5 442.3 L405.4 414.1 L406.3 438.8 L407.5 410.8 L407.5 442.9 L409.0 410.9 L409.9 435.3 L411.2 409.6 L412.5 434.2 L412.5 410.4 L413.4 433.6 L415.0 412.1 L415.0 439.2 L416.1 415.3 L417.0 438.8 L418.8 418.3 L418.8 445.4 L419.7 420.3 L420.6 442.8 L421.4 427.8 L422.3 443.8 L423.8 419.6 L423.8 446.7 L425.0 427.9 L425.9 444.9 L426.8 423.3 L427.7 441.2 L428.8 423.3 L430.0 441.7 L430.3 422.9 L431.2 438.4 L432.1 426.1 L433.0 438.6 L433.8 422.1 L435.0 436.7 L435.7 423.0 L436.6 434.0 L437.5 419.3 L438.4 433.9 L438.8 418.3 L440.1 432.0 L441.0 413.3 L441.2 432.9 L442.5 408.3 L443.7 433.2 L444.6 405.6 L446.2 436.7 L446.4 410.3 L447.2 437.3 L447.5 400.8 L449.0 433.1 L449.9 402.8 L450.8 436.4 L452.5 392.1 L452.5 440.4 L453.5 406.2 L454.4 437.6 L455.3 399.8 L456.2 438.9 L456.2 397.1 L457.9 441.5 L458.8 400.7 L460.0 442.9 L461.2 402.1 L461.5 442.0 L462.4 406.7 L463.3 440.6 L464.2 412.1 L465.1 444.2 L465.9 403.1 L466.2 445.4 L467.5 402.1 L468.6 441.9 L469.5 404.2 L470.4 438.8 L471.3 416.6 L472.5 441.7 L472.5 404.6 L473.9 438.3 L474.8 417.9 L475.7 437.9 L477.5 415.8 L477.5 439.2 L478.4 423.0 L479.3 437.8 L480.2 417.5 L481.1 434.7 L482.5 417.1 L482.5 435.4 L483.7 417.9 L484.6 431.3 L485.5 418.8 L486.4 431.4 L487.3 415.5 L487.5 430.4 L488.8 414.6 L490.0 424.6 L491.2 407.1 L491.2 424.2 L492.6 409.8 L494.2 421.7 L494.2 405.8 L495.3 418.8 L496.2 407.2 L497.1 416.1 L498.8 402.1 L498.9 411.8 L499.8 404.4 L500.0 410.4 L501.5 400.2 L502.4 407.0 L503.8 398.3 L505.0 405.4 L505.1 395.3 L506.0 403.6 L506.9 393.1 L507.8 401.9 L508.8 387.1 L510.0 400.4 L511.2 382.1 L511.3 399.3 L512.2 383.0 L513.1 396.2 L514.0 384.3 L515.0 396.7 L515.8 380.5 L516.7 393.6 L517.5 379.6 L518.5 394.5 L519.3 380.4 L520.0 394.2 L521.1 383.7 L522.0 392.8 L523.8 379.6 L523.8 391.4 L524.7 383.9 L526.2 392.9 L526.5 381.0 L527.4 390.8 L528.8 382.1 L529.1 390.5 L530.0 381.6 L530.9 388.7 L531.8 383.2 L532.5 387.9 L533.8 379.6 L534.5 386.3 L536.2 368.3 L536.2 385.8 L537.1 366.9 L537.5 387.9 L538.9 368.0 L540.0 384.2 L540.0 362.1 L541.6 381.3 L542.5 370.9 L543.4 383.8 L543.8 367.1 L545.0 384.2 L546.0 372.2 L546.9 382.8 L547.8 367.2 L548.7 380.2 L548.8 367.1 L551.2 380.4 L551.4 367.2 L552.3 378.9 L553.8 364.6 L554.0 378.3 L554.9 362.3 L556.2 376.7 L556.2 359.6 L557.6 375.1 L558.5 359.1 L559.4 372.5 L560.3 362.1 L561.2 371.7 L561.2 358.3 L563.0 367.9 L563.8 358.4 L565.0 366.7 L566.2 355.8 L566.5 365.0 L567.4 358.5 L568.3 365.0 L569.2 355.4 L570.0 364.2 L571.2 354.6 L571.9 363.5 L572.7 353.1 L573.6 363.0 L574.5 350.3 L575.0 364.2 L576.3 354.6 L577.2 364.1 L577.5 357.1 L579.0 365.2 L579.9 360.5 L581.2 366.7 L581.2 362.1 L582.5 366.3 L583.4 361.7 L584.3 366.4 L585.2 361.7 L586.1 367.5 L587.5 352.1 L587.5 367.9 L588.8 350.9 L589.7 361.6 L591.2 342.1 L591.2 360.4 L592.3 346.6 L593.2 357.4 L594.1 341.1 L595.0 357.9 L595.0 340.8 L596.8 357.1 L598.0 339.6 L598.5 354.8 L599.4 343.8 L600.0 355.4 L601.2 344.3 L602.5 340.4 L603.0 332.1 L603.9 336.6 L605.0 317.1 L606.2 331.7 L606.6 319.9 L607.5 331.1 L608.8 318.3 L609.2 330.3 L610.1 320.5 L611.0 330.7 L612.5 315.8 L612.5 330.4 L613.7 320.0 L614.6 329.9 L616.2 314.6 L616.4 328.2 L617.2 317.3 L617.5 330.4 L619.0 316.4 L619.9 327.9 L620.0 317.1 L622.5 326.7 L622.6 314.5 L623.5 325.4 L623.8 313.3 L625.2 325.0 L626.1 312.9 L627.0 322.9 L627.5 310.8 L628.8 324.2 L629.7 309.5 L630.6 322.4 L631.2 305.8 L632.4 321.3 L633.3 304.7 L635.0 321.7 L635.0 302.1 L635.9 320.3 L636.8 301.1 L637.7 316.6 L638.6 303.0 L640.0 315.4 L640.0 298.3 L641.3 311.7 L642.2 295.9 L643.0 311.4 L643.8 285.8 L645.0 309.2 L646.2 277.1 L647.5 299.2 L647.5 275.6 L648.4 295.8 L650.0 268.3 L650.2 297.4 L651.1 268.2 L652.5 297.9 L652.8 275.1 L653.7 297.0 L655.0 267.1 L655.5 295.2 L656.4 275.5 L657.5 300.4 L658.8 264.6 L659.1 293.8 L660.0 272.0 L661.2 295.4 L661.2 257.1 L662.6 291.5 L663.5 261.8 L664.4 290.7 L665.0 255.8 L666.2 287.9 L667.1 259.4 L668.0 283.6 L668.8 253.3 L669.8 281.8 L670.6 261.5 L671.5 285.5 L672.5 255.8 L672.5 285.4 L674.2 258.6 L675.1 286.1 L675.5 242.1 L676.9 282.4 L677.8 253.5 L678.8 287.9 L678.8 245.8 L680.4 283.3 L681.3 250.9 L682.2 287.9 L683.0 232.1 L684.0 283.9 L684.9 255.2 L685.0 287.9 L686.2 244.6 L687.5 282.9 L688.4 254.9 L690.0 286.7 L690.0 248.3 L691.1 282.2 L692.0 257.6 L692.9 279.6 L693.8 245.8 L695.0 277.9 L695.6 249.9 L696.5 277.4 L697.5 238.3 L698.2 274.4 L699.5 217.1 L700.0 277.9 L700.9 209.8 L701.8 268.0 L702.5 200.8 L703.8 271.7 L704.5 195.8 L705.3 259.9 L706.2 190.8 L707.5 264.2 L708.0 185.2 L708.9 251.6 L710.5 168.3 L711.2 257.9 L711.6 174.2 L712.5 247.8 L713.8 183.3 L715.0 242.9 L715.1 180.5 L716.0 233.8 L717.5 175.8 L717.8 242.2 L718.7 176.2 L719.6 237.8 L721.2 174.6 L721.2 242.9 L722.3 177.1 L723.2 233.9 L724.0 196.2 L725.0 236.7 L725.0 178.3 L726.7 233.0 L727.6 195.4 L728.8 235.4 L728.8 193.3 L730.3 229.2 L731.2 200.4 L732.5 225.4 L732.5 189.6 L733.8 223.3 L734.7 204.1 L736.2 229.2 L736.2 197.1 L737.4 225.2 L738.3 205.2 L739.2 222.2 L740.1 191.5 L741.2 222.9 L741.2 189.6 L742.7 222.9 L743.6 190.9 L745.0 226.7 L745.0 188.3 L746.3 230.3 L747.2 190.0 L748.8 237.9 L749.0 197.7 L749.8 235.3 L750.0 192.1 L751.6 232.0 L752.5 204.4 L753.8 235.4 L753.8 185.8 L755.2 230.3 L756.2 182.1 L757.0 233.8 L757.9 181.7 L758.8 225.9 L760.0 177.1 L760.0 232.9 L761.4 178.7 L762.3 227.1 L763.8 173.3 L764.1 226.8 L765.0 175.8 L765.0 226.7 L767.5 175.8 L767.7 223.1 L768.5 180.6 L770.0 222.9 L770.3 191.6 L771.2 220.3 L771.2 180.8 L773.0 221.4 L773.9 196.4 L774.8 223.4 L775.0 192.1 L776.5 220.8 L777.4 196.4 L778.3 222.1 L778.8 185.8 L780.1 217.4 L781.0 182.9 L782.5 224.2 L782.5 170.8 L783.7 217.1 L784.6 179.2 L786.2 222.9 L785.8 165.3 L787.2 217.1 L788.8 173.3 L789.0 219.4 L789.9 174.4 L790.8 221.8 L791.7 191.5 L792.6 225.1 L793.8 174.6 L795.0 229.2 L795.2 187.1 L796.1 223.6 L797.5 180.8 L797.9 222.1 L798.8 193.7 L799.7 226.8 L800.0 173.3 L801.5 225.0 L802.5 154.6 L803.8 227.9 L804.1 152.4 L805.0 217.1 L806.2 149.6 L807.5 222.9 L807.7 152.9 L808.6 216.2 L809.5 160.1 L811.2 214.2 L810.5 139.6 L812.2 207.4 L813.8 152.1 L813.9 212.7 L814.8 154.2 L816.2 211.7 L816.6 175.8 L817.5 204.0 L817.5 159.6 L820.0 200.4 L820.2 171.0 L821.0 198.3 L821.2 155.8 L822.8 189.7 L823.7 169.0 L823.8 192.9 L825.0 158.3 L826.4 190.6 L827.3 170.8 L828.2 192.1 L828.8 167.1 L830.0 191.7 L830.8 167.9 L831.7 192.2 L832.5 163.3 L833.5 191.5 L834.4 172.4 L835.3 194.9 L836.2 165.8 L836.2 195.4 L838.0 165.3 L838.8 185.9 L839.5 152.1 L840.0 186.7 L841.5 158.4 L842.4 184.5 L843.8 149.6 L843.8 184.2 L845.1 158.0 L846.0 186.6 L847.5 149.6 L847.8 184.1 L848.6 163.8 L848.8 191.7 L850.0 154.6 L851.3 189.2 L852.2 158.7 L853.1 194.5 L853.8 152.1 L855.0 196.7 L855.8 162.8 L856.7 192.5 L856.8 142.1 L858.4 189.4 L860.0 140.8 L860.0 191.7 L861.1 141.5 L862.0 188.1 L863.8 139.6 L863.8 188.9 L864.7 146.4 L866.2 192.9 L866.4 156.0 L867.3 193.3 L867.5 144.6 L870.0 194.2 L869.2 138.3 L870.9 191.5 L871.8 146.5 L872.7 186.0 L873.8 149.6 L875.0 189.2 L875.3 149.7 L876.2 182.5 L877.5 148.3 L878.0 184.1 L878.9 146.5 L879.8 180.0 L881.2 139.6 L881.2 182.9 L882.5 140.8 L883.3 177.8 L884.2 145.8 L885.1 176.8 L885.5 133.3 L887.5 180.4 L887.8 154.0 L888.7 180.2 L888.8 143.3 L890.5 175.6 L891.4 151.2 L892.2 175.5 L893.8 143.3 L893.8 179.2 L894.9 152.3 L895.8 173.8 L896.7 145.8 L897.6 170.9 L898.8 144.6 L898.8 171.7 L900.3 146.6 L901.2 175.1 L902.5 149.6 L902.5 182.9 L903.8 150.6 L904.7 180.5 L905.6 161.1 L906.5 188.2 L907.5 149.6 L907.5 190.4 L909.2 158.0 L910.0 186.0 L911.2 150.8 L911.2 186.7 L913.0 129.6 L913.6 176.1 L915.0 124.5 L915.0 174.2 L916.3 137.7 L917.2 172.0 L918.8 134.6 L918.8 170.4 L919.8 143.1 L920.7 167.1 L921.6 133.3 L922.5 163.6 L923.8 132.1 L923.8 167.9 L925.2 136.9 L926.1 167.3 L927.5 140.8 L927.9 171.3 L928.7 143.3 L928.8 172.9 L931.2 148.3 L931.4 174.8 L932.3 153.3 L933.8 177.9 L934.1 161.5 L935.0 176.9 L935.0 160.8 L936.8 174.6 L937.5 165.8 L938.8 175.4 L939.4 163.1 L940.3 173.0 L941.2 159.6 L942.1 172.1 L943.0 158.0 L943.8 170.4 L945.0 155.8 L945.7 168.1 L946.5 153.6 L947.4 166.4 L948.8 149.6 L948.8 166.7 L950.1 147.9 L951.0 163.9 L952.5 144.6 L952.8 166.6 L953.7 143.9 L955.0 166.7 L956.2 142.1 L956.3 167.6 L957.2 143.1 L958.1 167.2 L959.0 150.9 L959.9 169.4 L960.0 142.1 L961.2 171.7 L963.0 153.3 L963.5 172.3 L964.3 154.0 L965.2 172.4 L966.1 157.2 L966.2 174.2 L967.5 154.6 L968.8 170.8 L969.7 160.8 L970.6 171.4 L971.2 158.3 L972.5 171.7 L973.2 162.8 L975.0 175.4 L975.0 159.6 L975.9 172.5 L976.8 161.3 L977.7 172.7 L978.6 158.9 L980.0 170.4 L980.0 158.3 L981.2 168.6 L982.1 156.3 L983.0 167.4 L983.8 154.6 L985.0 167.9 L985.7 151.3 L986.6 166.2 L987.0 145.8 L988.4 165.3 L990.0 149.6 L990.0 166.7 L991.0 156.1 L991.9 171.8 L992.5 160.8 L993.8 177.5 L993.8 176.2 L995.5 176.6 L996.4 174.4 L997.3 175.6 L998.8 172.5 L998.8 175.0 L999.9 170.1 L1000.8 172.3 L1002.5 164.6 L1002.6 171.0 L1003.5 162.1 L1003.8 170.4 L1005.3 158.6 L1006.2 169.3 L1006.2 154.6 L1008.0 167.7 L1008.8 153.2 L1010.0 167.9 L1010.0 148.3 L1011.5 164.8 L1012.4 151.6 L1013.3 165.4 L1013.8 144.6 L1015.1 163.5 L1016.0 145.7 L1016.2 166.7 L1017.5 142.1 L1018.6 163.0 L1019.5 147.0 L1020.4 163.3 L1021.2 140.8 L1022.5 165.4 L1023.1 145.1 L1024.0 165.0 L1025.5 134.6 L1025.8 161.5 L1026.6 140.4 L1027.5 164.4 L1028.4 137.8 L1030.0 165.4 L1030.0 139.6 L1031.1 163.7 L1032.0 141.8 L1032.9 161.7 L1033.8 143.1 L1034.7 163.0 L1035.0 139.6 L1036.4 161.3 L1037.3 144.6 L1037.5 164.2 L1039.1 138.5 L1040.0 159.9 L1040.0 138.3 L1041.8 161.6 L1042.7 139.3 L1043.8 160.4 L1043.8 137.1 L1045.3 159.0 L1046.2 141.2 L1047.1 159.6 L1047.5 143.3 L1048.9 159.9 L1049.8 146.1 L1050.0 161.7 L1051.2 147.1 L1052.5 163.5 L1053.3 150.9 L1054.2 164.8 L1055.0 152.1 L1056.2 167.9 L1056.9 155.3 L1057.8 167.9 L1058.8 158.3 L1059.6 169.8 L1060.5 159.4 L1061.2 171.7 L1062.2 162.6 L1063.1 170.3 L1063.8 158.3 L1064.9 169.4 L1065.8 161.9 L1067.5 169.2 L1067.6 157.3 L1068.5 167.9 L1068.8 157.1 L1070.2 169.7 L1071.1 161.7 L1072.5 170.4 L1072.5 163.3 L1073.8 173.7 L1074.7 169.2 L1076.2 180.4 L1076.2 172.1 L1077.4 180.2 L1078.3 174.8 L1079.2 180.4 L1080.0 177.0 L1080.9 181.3 L1081.8 177.9 L1082.5 181.9 L1083.6 179.4 L1084.5 182.5 L1085.0 179.1 L1086.3 182.6 L1087.2 179.8 L1087.5 183.2 L1088.9 179.5 L1089.8 183.7 L1090.0 179.6 L1092.5 185.4 L1092.5 180.8 L1093.4 184.8 L1095.0 181.6 L1095.2 184.9 L1096.1 181.3 L1097.0 183.8 L1097.8 181.9 L1098.8 183.6 L1099.6 180.6 L1100.5 183.8 L1101.2 180.5 L1102.3 184.7 L1103.2 181.8 L1104.1 185.5 L1105.0 183.6 L1105.0 186.1 L1106.2 184.0 L1107.6 188.2 L1108.5 185.8 L1109.4 189.7 L1110.3 186.6 L1111.2 191.7 L1111.2 187.1 L1113.0 191.8 L1113.9 188.1 L1114.8 191.8 L1116.2 189.0 L1116.5 192.2 L1117.4 189.3 L1117.5 192.3 L1119.2 189.7 L1120.1 192.2 L1121.0 189.3 L1122.5 192.3 L1122.5 189.0 L1123.7 193.3 L1125.0 190.6 L1125.0 194.4 L1126.3 192.3 L1127.2 195.5 L1128.1 192.5 L1129.0 196.2 L1129.9 193.8 L1130.8 197.5 L1131.2 194.1 L1132.5 198.3 L1133.4 195.9 L1134.3 199.2 L1135.2 196.2 L1136.1 199.6 L1137.5 196.8 L1137.9 200.7 L1138.8 197.4 L1140.0 201.9 L1140.6 199.3 L1141.5 202.1 L1142.3 199.2 L1143.2 202.6 L1143.8 199.3 L1145.0 203.3 L1145.9 200.2 L1147.5 204.5 L1147.7 201.4 L1148.6 205.0 L1150.0 201.8 L1150.4 205.6 L1151.2 203.1 L1152.1 206.3 L1153.0 202.9 L1153.9 207.1 L1154.8 204.5 L1155.0 207.9 L1156.2 203.3 L1157.5 208.4 L1158.2 216.2 L1159.2 210.0 L1160.1 205.9 L1161.0 210.3 L1161.2 205.8 L1162.5 211.7 L1163.7 208.1 L1164.6 211.8 L1166.2 209.1 L1166.4 212.6 L1167.3 209.4 L1168.1 212.8 L1169.0 210.3 L1170.0 213.4 L1170.8 210.2 L1171.7 213.7 L1172.5 210.5 L1173.5 214.8 L1174.4 211.6 L1175.3 215.3 L1176.2 212.7 L1177.0 216.3 L1177.5 225.0 L1178.8 216.6 L1179.7 214.5 L1181.2 218.3 L1181.5 214.6 L1182.4 218.6 L1183.3 217.0 L1184.2 219.9 L1185.0 216.7 L1186.0 220.4 L1186.8 217.8 L1187.5 221.8 L1188.6 217.9 L1189.5 222.1 L1191.2 218.3 L1191.3 222.9 L1192.2 218.5 L1193.0 235.0 L1194.0 219.8 L1194.8 224.2 L1195.7 219.2 L1197.5 225.4 L1197.5 219.6 L1198.4 225.8 L1199.3 221.6 L1200.2 227.1 L1201.1 222.9 L1202.0 229.3 L1202.5 223.3 L1203.8 230.2 L1204.5 241.2 L1205.5 232.4 L1206.4 227.2 L1207.3 233.1 L1208.8 228.3 L1208.8 235.4 L1210.0 228.8 L1210.9 236.5 L1211.8 230.7 L1212.5 237.9 L1213.5 230.9 L1214.4 237.7 L1215.0 230.8 L1216.2 256.2 L1217.1 232.1 L1218.0 239.7 L1218.9 234.0 L1219.8 240.8 L1221.2 234.6 L1221.2 241.7 L1222.4 236.4 L1223.3 243.4 L1224.2 237.2 L1225.1 244.6 L1226.2 238.3 L1227.5 247.9 L1227.8 240.6 L1228.7 247.5 L1229.6 243.7 L1230.5 249.5 L1231.3 243.4 L1232.2 250.3 L1232.5 244.6 L1233.8 251.7 L1234.9 245.5 L1235.8 251.8 L1236.7 248.1 L1237.6 253.4 L1238.8 247.1 L1239.5 263.8 L1240.2 250.0 L1241.1 254.7 L1242.0 248.7 L1242.9 255.2 L1243.8 251.0 L1245.0 256.7 L1245.0 249.6 L1246.5 257.7 L1247.4 253.4 L1248.2 259.9 L1249.1 252.0 L1250.0 261.7 L1251.2 253.3 L1251.8 265.9 L1252.7 254.3 L1253.8 270.4 L1254.5 259.8 L1255.4 269.5 L1256.3 257.0 L1257.1 268.6 L1257.5 257.1 L1258.8 269.2 L1259.8 259.4 L1260.7 269.3 L1261.6 260.8 L1262.5 270.4 L1263.8 259.6 L1264.3 266.7 L1265.2 259.7 L1266.0 265.0 L1266.9 255.8 L1267.5 262.9 L1268.8 252.1 L1269.6 263.0 L1270.5 250.5 L1271.4 262.7 L1271.8 248.3 L1273.2 263.2 L1274.1 251.9 L1275.0 264.2 L1275.0 253.3 L1276.7 264.4 L1277.6 255.1 L1278.5 264.1 L1280.0 255.8 L1280.0 265.4 L1281.2 256.0 L1282.1 263.4 L1283.8 255.8 L1283.8 263.5 L1284.7 257.2 L1285.0 262.9 L1286.5 260.5 L1287.4 268.2 L1287.5 260.8 L1288.8 271.7 L1290.1 263.4 L1291.0 271.3 L1291.9 263.4 L1292.8 272.2 L1293.8 264.6 L1293.8 272.9 L1295.4 266.2 L1296.3 274.2 L1297.2 267.6 L1298.8 277.9 L1299.0 266.6 L1299.9 276.8 L1300.0 267.1 L1301.6 276.2 L1302.5 268.9 L1303.8 275.4 L1304.3 271.8 L1305.2 276.8 L1306.2 270.8 L1307.0 278.9 L1307.9 274.5 L1308.8 281.7 L1309.7 272.9 L1310.5 279.9 L1311.4 274.8 L1312.3 278.8 L1312.5 273.3 L1313.8 278.0 L1315.0 275.8 L1315.9 279.2 L1317.5 275.8 L1317.7 280.5 L1318.6 278.2 L1318.8 281.7 L1320.3 278.7 L1321.2 282.8 L1322.0 292.5 L1323.0 283.7 L1323.9 279.6 L1325.0 284.2 L1326.2 277.1 L1326.6 282.3 L1327.5 277.0 L1328.3 280.3 L1329.2 277.6 L1330.0 279.6 L1331.0 276.1 L1331.9 280.8 L1332.5 275.8 L1333.7 282.8 L1334.6 277.8 L1336.2 285.4 L1336.4 279.7 L1337.2 285.9 L1337.5 279.6 L1339.0 285.8 L1339.9 282.9 L1340.8 286.8 L1342.0 297.5 L1342.6 287.6 L1343.8 283.3 L1344.4 289.0 L1345.3 284.1 L1346.1 289.4 L1347.0 286.4 L1347.5 290.4 L1348.8 285.5 L1349.7 290.3 L1350.0 285.8 L1351.5 290.9 L1352.4 286.9 L1353.3 291.3 L1353.8 300.0 L1355.0 291.9 L1356.2 288.2 L1356.8 291.9 L1357.7 289.6 L1358.8 292.9 L1359.5 288.5 L1360.4 292.9 L1361.3 289.0 L1362.2 294.0 L1362.5 288.3 L1364.0 294.5 L1364.8 290.8 L1365.0 295.4 L1367.5 292.1 L1367.5 299.8 L1368.4 297.1 L1370.0 306.7 L1370.2 298.3 L1371.1 307.3 L1371.2 299.6 L1372.8 310.9 L1373.7 299.7 L1375.0 315.4 L1376.2 297.1 L1376.4 313.4 L1377.3 298.4 L1378.2 311.7 L1379.1 303.4 L1380.0 311.7 L1381.2 302.1 L1381.8 309.9 L1382.6 302.8 L1383.5 310.2 L1384.4 302.0 L1385.3 308.3 L1386.2 300.8 L1386.2 309.2 L1388.0 304.3 L1388.9 314.8 L1390.0 308.3 L1391.2 321.7 L1391.5 310.5 L1392.4 323.2 L1393.3 317.0 L1393.8 327.9 L1395.0 314.6 L1396.0 325.2 L1396.9 315.4 L1397.8 323.8 L1398.7 313.6 L1398.8 322.9 L1400.0 312.1 L1401.3 326.9 L1402.2 316.4 L1402.5 329.2 L1404.0 322.6 L1404.9 328.6 L1405.0 320.8 L1406.8 350.0 L1407.6 324.9 L1408.5 329.9 L1408.8 324.6 L1410.0 330.4 L1411.1 324.7 L1412.0 329.3 L1413.8 323.3 L1413.8 328.2 L1414.7 324.0 L1415.0 327.9 L1416.5 323.3 L1417.3 328.7 L1418.2 324.2 L1419.1 330.4 L1420.0 323.3 L1421.2 331.7 L1421.8 325.7 L1422.7 330.7 L1423.6 324.5 L1424.5 329.6 L1425.0 324.6 L1426.2 329.2 L1427.1 324.8 L1428.0 331.9 L1428.9 326.1 L1430.5 336.7"/>
</g>
<g stroke="#000" stroke-width="1.1" fill="none">
<line x1="62.6" x2="67.5" y1="450.50" y2="450.50"/><line x1="62.6" x2="67.5" y1="400.50" y2="400.50"/><line x1="62.6" x2="67.5" y1="351.50" y2="351.50"/><line x1="62.6" x2="67.5" y1="301.50" y2="301.50"/><line x1="62.6" x2="67.5" y1="252.50" y2="252.50"/><line x1="62.6" x2="67.5" y1="202.50" y2="202.50"/><line x1="62.6" x2="67.5" y1="152.50" y2="152.50"/><line x1="62.6" x2="67.5" y1="103.50" y2="103.50"/>
<line y1="467.5" y2="472.4" x1="132.50" x2="132.50"/><line y1="467.5" y2="472.4" x1="342.50" x2="342.50"/><line y1="467.5" y2="472.4" x1="559.50" x2="559.50"/><line y1="467.5" y2="472.4" x1="776.50" x2="776.50"/><line y1="467.5" y2="472.4" x1="997.50" x2="997.50"/><line y1="467.5" y2="472.4" x1="1214.50" x2="1214.50"/><line y1="467.5" y2="472.4" x1="1431.50" x2="1431.50"/>
<rect x="67.5" y="80.5" width="1429" height="387"/>
</g>
<g class="k">
<text x="29.33" y="457.50" textLength="27.01" lengthAdjust="spacingAndGlyphs">−2</text><text x="45.21" y="407.50" textLength="11.40" lengthAdjust="spacingAndGlyphs">0</text><text x="45.16" y="358.50" textLength="10.98" lengthAdjust="spacingAndGlyphs">2</text><text x="45.21" y="308.50" textLength="11.40" lengthAdjust="spacingAndGlyphs">4</text><text x="45.01" y="259.50" textLength="11.80" lengthAdjust="spacingAndGlyphs">6</text><text x="45.15" y="209.50" textLength="11.52" lengthAdjust="spacingAndGlyphs">8</text><text x="32.87" y="159.50" textLength="23.78" lengthAdjust="spacingAndGlyphs">10</text><text x="32.90" y="110.50" textLength="23.30" lengthAdjust="spacingAndGlyphs">12</text>
<text x="92.11" y="492.20" textLength="80.17" lengthAdjust="spacingAndGlyphs">2018-01</text><text x="302.10" y="492.20" textLength="80.31" lengthAdjust="spacingAndGlyphs">2018-03</text><text x="519.22" y="492.20" textLength="80.12" lengthAdjust="spacingAndGlyphs">2018-05</text><text x="736.32" y="492.20" textLength="80.34" lengthAdjust="spacingAndGlyphs">2018-07</text><text x="956.99" y="492.20" textLength="80.58" lengthAdjust="spacingAndGlyphs">2018-09</text><text x="1174.08" y="492.20" textLength="80.21" lengthAdjust="spacingAndGlyphs">2018-11</text><text x="1391.21" y="492.20" textLength="80.17" lengthAdjust="spacingAndGlyphs">2019-01</text>
<g transform="translate(18.2,404.94) rotate(-90)"><text x="0.41" y="0.00" textLength="34.04" lengthAdjust="spacingAndGlyphs">Sea</text><text x="43.24" y="0.00" textLength="54.91" lengthAdjust="spacingAndGlyphs">water</text><text x="104.14" y="0.00" textLength="121.97" lengthAdjust="spacingAndGlyphs">temperature</text><text x="232.41" y="0.00" textLength="28.59" lengthAdjust="spacingAndGlyphs">[C]</text></g>
</g>
<g>
<rect x="1398.5" y="87.5" width="91" height="46" rx="2.8" ry="2.8" fill="#fff" fill-opacity="0.8" stroke="#ccc" stroke-width="1.1"/>
<line x1="1402" x2="1433" y1="99.3" y2="99.3" stroke="#000" stroke-width="2.78"/>
<line x1="1402" x2="1433" y1="120.2" y2="120.2" stroke="#f00" stroke-width="2.78"/>
<g class="l"><text x="1442.82" y="104.20" textLength="29.91" lengthAdjust="spacingAndGlyphs">data</text>
<text x="1442.80" y="125.10" textLength="41.04" lengthAdjust="spacingAndGlyphs">CIOFS</text></g>
</g>
</svg>
</body></html>
